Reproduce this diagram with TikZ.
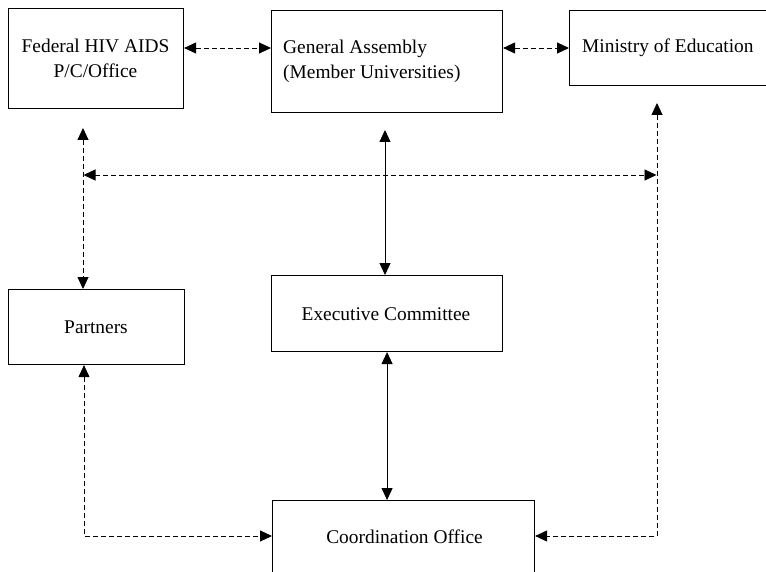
\documentclass[tikz,border=0pt]{standalone}
\usepackage{fontspec}
\setmainfont{Liberation Serif}
\usetikzlibrary{arrows.meta,calc}
\begin{document}
\begin{tikzpicture}[x=1bp,y=-1bp,
  box/.style={draw, line width=1.1bp, inner sep=0pt, anchor=north west},
  txt/.style={inner sep=0pt, font=\fontsize{19.4bp}{25bp}\selectfont},
  dasharrow/.style={line width=0.9bp, dash pattern=on 5bp off 3bp,
    {Triangle[length=12bp,width=11bp]}-{Triangle[length=12bp,width=11bp]}},
  solidarrow/.style={line width=0.9bp,
    {Triangle[length=12bp,width=11bp]}-{Triangle[length=12bp,width=11bp]}}]
\useasboundingbox (0,0) rectangle (766,572);
\begin{scope}
\clip (0,0) rectangle (766,572);
\node[box, minimum width=175bp, minimum height=100bp] (fed) at (8,8) {};
\node[box, minimum width=231bp, minimum height=102bp] (ga) at (271,10) {};
\node[box, minimum width=230bp, minimum height=75bp] (min) at (569,10) {};
\node[box, minimum width=176bp, minimum height=75bp] (par) at (8,289) {};
\node[box, minimum width=231bp, minimum height=76bp] (exec) at (271,275) {};
\node[box, minimum width=262bp, minimum height=100bp] (coord) at (272,500) {};
\end{scope}
\node[txt, anchor=base] (fedt) at (95.5,53) {\begin{tabular}[t]{@{}c@{}}Federal HIV AIDS\\P/C/Office\end{tabular}};
\node[txt, anchor=base west] (gat) at (283,54) {\begin{tabular}[t]{@{}l@{}}General Assembly\\(Member Universities)\end{tabular}};
\node[txt, anchor=base west] (mint) at (582,53) {Ministry of Education};
\node[txt, anchor=base] (part) at (96,333) {Partners};
\node[txt, anchor=base] (exect) at (386,320) {Executive Committee};
\node[txt, anchor=base] (coordt) at (404.5,543) {Coordination Office};
% connectors
\coordinate (r1) at (0,48);
\draw[dasharrow] (fed.east |- r1) -- (ga.west |- r1);
\draw[dasharrow] (ga.east |- r1) -- (min.west |- r1);
\coordinate (fedtip) at (83,128);
\draw[dasharrow] (fedtip) -- (fedtip |- par.north);
\coordinate (hl) at (83.5,175);
\coordinate (hr) at (656.5,175);
\draw[dasharrow] (hl) -- (hr);
\coordinate (mintip) at (657,103);
\coordinate (mcorner) at (657,536);
\draw[dasharrow] (mintip) -- (mcorner) -- (mcorner -| coord.east);
\coordinate (pcorner) at (84,536);
\draw[dasharrow] (pcorner |- par.south) -- (pcorner) -- (pcorner -| coord.west);
\coordinate (gatip) at (385,130);
\draw[solidarrow] (gatip) -- (gatip |- exec.north);
\draw[solidarrow] (exec.south) -- (exec.south |- coord.north);
\end{tikzpicture}
\end{document}
